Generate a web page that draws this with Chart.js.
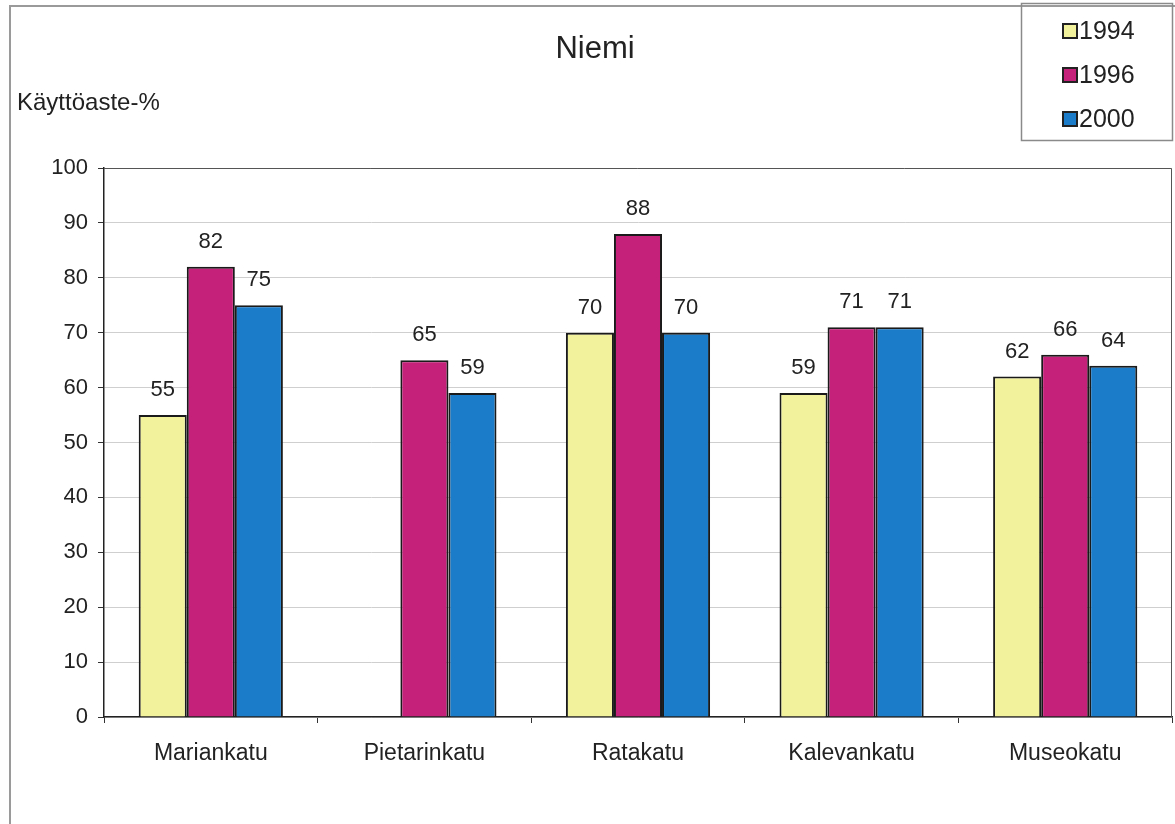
<!DOCTYPE html>
<html>
<head>
<meta charset="utf-8">
<script src="https://cdn.jsdelivr.net/npm/chart.js@4.4.1/dist/chart.umd.min.js"></script>
<style>
    html, body { margin: 0; padding: 0; background: #ffffff; }
    #chartBox { width: 1175px; height: 824px; }
</style>
</head>
<body>
<div id="chartBox"><canvas id="niemiChart"></canvas></div>
<script>
const streets = ["Mariankatu", "Pietarinkatu", "Ratakatu", "Kalevankatu", "Museokatu"];
const years = ["1994", "1996", "2000"];
const values_1994 = [55, null, 70, 59, 62];
const values_1996 = [82, 65, 88, 71, 66];
const values_2000 = [75, 59, 70, 71, 64];
const y_ticks = [0, 10, 20, 30, 40, 50, 60, 70, 80, 90, 100];

const chart_title = "Niemi";
const y_title = "Käyttöaste-%";
const font_family = "'Liberation Sans', Arial, Helvetica, sans-serif";
const bar_colors = ["#f3f29c", "#c6217a", "#1b7cc9"];

// frame, titles and legend box drawn by hand
const decorations = {
    id: "decorations",
    beforeDraw(chart) {
        const ctx = chart.ctx;
        ctx.save();
        ctx.fillStyle = "#ffffff";
        ctx.fillRect(0, 0, chart.width, chart.height);
        ctx.strokeStyle = "#9a9a9a";
        ctx.lineWidth = 2;
        ctx.strokeRect(10, 6, chart.width + 20, chart.height + 20);
        ctx.restore();
    },
    afterDraw(chart) {
        const ctx = chart.ctx;
        const area = chart.chartArea;
        ctx.save();

        // plot border top and right
        ctx.strokeStyle = "#555555";
        ctx.lineWidth = 1;
        ctx.beginPath();
        ctx.moveTo(area.left, area.top + 0.5);
        ctx.lineTo(area.right - 0.5, area.top + 0.5);
        ctx.lineTo(area.right - 0.5, area.bottom);
        ctx.stroke();

        ctx.fillStyle = "#222222";
        ctx.textBaseline = "middle";
        ctx.textAlign = "center";
        ctx.font = "31px " + font_family;
        ctx.fillText(chart_title, 595, 49);

        ctx.textAlign = "left";
        ctx.font = "24px " + font_family;
        ctx.fillText(y_title, 17, 103);

        // legend
        ctx.strokeStyle = "#8a8a8a";
        ctx.lineWidth = 1.5;
        ctx.strokeRect(1021.5, 3.5, 151, 137);
        ctx.font = "25px " + font_family;
        chart.data.datasets.forEach((dataset, i) => {
            const y = 31 + i * 44;
            ctx.fillStyle = dataset.backgroundColor;
            ctx.fillRect(1063, y - 7, 14, 14);
            ctx.strokeStyle = "#222222";
            ctx.lineWidth = 2;
            ctx.strokeRect(1063, y - 7, 14, 14);
            ctx.fillStyle = "#222222";
            ctx.fillText(dataset.label, 1079, y + 1);
        });
        ctx.restore();
    },
};

// value labels above the bars
const valueLabels = {
    id: "valueLabels",
    afterDatasetsDraw(chart) {
        const ctx = chart.ctx;
        ctx.save();
        ctx.fillStyle = "#222222";
        ctx.font = "22px " + font_family;
        ctx.textAlign = "center";
        ctx.textBaseline = "middle";
        chart.data.datasets.forEach((dataset, i) => {
            const meta = chart.getDatasetMeta(i);
            meta.data.forEach((bar, j) => {
                const value = dataset.data[j];
                if (value === null) return;
                ctx.fillText(String(value), bar.x, bar.y - 25);
            });
        });
        ctx.restore();
    },
};

function makeDataset(label, data, color) {
    return {
        label: label,
        data: data,
        backgroundColor: color,
        borderColor: "#1a1a1a",
        borderWidth: 2,
        borderSkipped: "start",
        categoryPercentage: 0.675,
        barPercentage: 1.0,
    };
}

function drawChart() {
    const chart_element = document.getElementById("niemiChart");
    new Chart(chart_element, {
        type: "bar",
        data: {
            labels: streets,
            datasets: [
                makeDataset(years[0], values_1994, bar_colors[0]),
                makeDataset(years[1], values_1996, bar_colors[1]),
                makeDataset(years[2], values_2000, bar_colors[2]),
            ],
        },
        options: {
            responsive: true,
            maintainAspectRatio: false,
            animation: false,
            layout: { padding: { left: 0, top: 168, right: 3, bottom: 0 } },
            plugins: {
                legend: { display: false },
                title: { display: false },
                tooltip: { enabled: false },
            },
            scales: {
                x: {
                    offset: true,
                    grid: {
                        offset: true,
                        drawOnChartArea: false,
                        drawTicks: true,
                        tickLength: 6,
                        color: "#333333",
                    },
                    border: { color: "#222222", width: 1.5 },
                    ticks: {
                        color: "#222222",
                        padding: 17,
                        font: { family: font_family, size: 23 },
                    },
                    afterFit(scale) { scale.height = 107; },
                },
                y: {
                    min: 0,
                    max: 100,
                    afterBuildTicks(scale) {
                        scale.ticks = y_ticks.map((v) => ({ value: v }));
                    },
                    grid: {
                        color: "#cfcfcf",
                        tickColor: "#333333",
                        tickLength: 6,
                        lineWidth: 1,
                    },
                    border: { color: "#222222", width: 1.5 },
                    ticks: {
                        color: "#222222",
                        padding: 10,
                        font: { family: font_family, size: 22 },
                    },
                    afterFit(scale) { scale.width = 104; },
                },
            },
        },
        plugins: [decorations, valueLabels],
    });
}

drawChart();
</script>
</body>
</html>
